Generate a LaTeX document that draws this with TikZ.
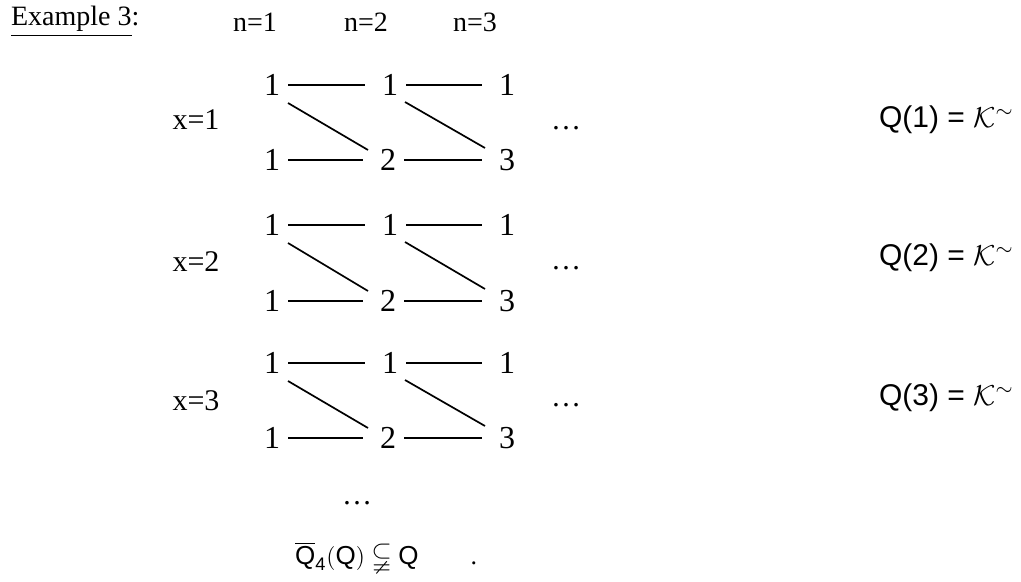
\documentclass[tikz,border=0pt]{standalone}
\usepackage{amsmath,amssymb}
\usepackage{fontspec}
\setmainfont{Liberation Serif}
\setsansfont{Liberation Sans}
\begin{document}
\begin{tikzpicture}[x=0.5pt,y=-0.5pt,
  kop/.style={font=\fontsize{14}{16}\selectfont},
  rij/.style={font=\fontsize{15}{17}\selectfont},
  getal/.style={font=\fontsize{16}{18}\selectfont,inner sep=2pt},
  lijn/.style={line width=0.85pt,shorten <=2pt,shorten >=6.5pt},
  schuin/.style={line width=0.85pt}]
\useasboundingbox (0,0) rectangle (1021,582);

% Kop
\node[kop,anchor=west] (kop) at (4,22) {\underline{Example 3}:};
\node[kop] (n1) at (255,22) {n=1};
\node[kop] (n2) at (366,22) {n=2};
\node[kop] (n3) at (475,22) {n=3};

% Blok x=1
\node[rij] (x1) at (196,120) {x=1};
\node[getal] (A1) at (272,85) {1};
\node[getal] (B1) at (390,85) {1};
\node[getal] (C1) at (507,85) {1};
\node[getal] (D1) at (272,160) {1};
\node[getal] (E1) at (388,160) {2};
\node[getal] (F1) at (507,160) {3};
\draw[lijn] (A1) -- (B1);
\draw[lijn] (B1) -- (C1);
\draw[lijn] (D1) -- (E1);
\draw[lijn] (E1) -- (F1);
\draw[schuin] ([xshift=8pt,yshift=-9pt]A1.center) -- ([xshift=-10pt,yshift=5pt]E1.center);
\draw[schuin] ([xshift=7.5pt,yshift=-8.5pt]B1.center) -- ([xshift=-11pt,yshift=6pt]F1.center);
\node[rij] (p1) at (566,128) {\dots};
\node[rij,anchor=west] (Q1) at (872,120) {\sffamily Q(1) = $\mathcal{K}^{\sim}$};

% Blok x=2
\node[rij] (x2) at (196,262) {x=2};
\node[getal] (A2) at (272,225) {1};
\node[getal] (B2) at (390,225) {1};
\node[getal] (C2) at (507,225) {1};
\node[getal] (D2) at (272,301) {1};
\node[getal] (E2) at (388,301) {2};
\node[getal] (F2) at (507,301) {3};
\draw[lijn] (A2) -- (B2);
\draw[lijn] (B2) -- (C2);
\draw[lijn] (D2) -- (E2);
\draw[lijn] (E2) -- (F2);
\draw[schuin] ([xshift=8pt,yshift=-9pt]A2.center) -- ([xshift=-10pt,yshift=5pt]E2.center);
\draw[schuin] ([xshift=7.5pt,yshift=-8.5pt]B2.center) -- ([xshift=-11pt,yshift=6pt]F2.center);
\node[rij] (p2) at (566,268) {\dots};
\node[rij,anchor=west] (Q2) at (872,258) {\sffamily Q(2) = $\mathcal{K}^{\sim}$};

% Blok x=3
\node[rij] (x3) at (196,401) {x=3};
\node[getal] (A3) at (272,363) {1};
\node[getal] (B3) at (390,363) {1};
\node[getal] (C3) at (507,363) {1};
\node[getal] (D3) at (272,438) {1};
\node[getal] (E3) at (388,438) {2};
\node[getal] (F3) at (507,438) {3};
\draw[lijn] (A3) -- (B3);
\draw[lijn] (B3) -- (C3);
\draw[lijn] (D3) -- (E3);
\draw[lijn] (E3) -- (F3);
\draw[schuin] ([xshift=8pt,yshift=-9pt]A3.center) -- ([xshift=-10pt,yshift=5pt]E3.center);
\draw[schuin] ([xshift=7.5pt,yshift=-8.5pt]B3.center) -- ([xshift=-11pt,yshift=6pt]F3.center);
\node[rij] (p3) at (566,405) {\dots};
\node[rij,anchor=west] (Q3) at (872,398) {\sffamily Q(3) = $\mathcal{K}^{\sim}$};

% Slot
\node[rij] (p4) at (357,503) {\dots};
\node[kop,anchor=west,font=\fontsize{13}{15}\selectfont] (formule) at (288,557)
  {$\overline{\text{\sffamily Q}}_{\text{\sffamily 4}}(\text{\sffamily Q}) \subsetneqq \text{\sffamily Q}$\hspace{26pt}.};
\end{tikzpicture}
\end{document}
